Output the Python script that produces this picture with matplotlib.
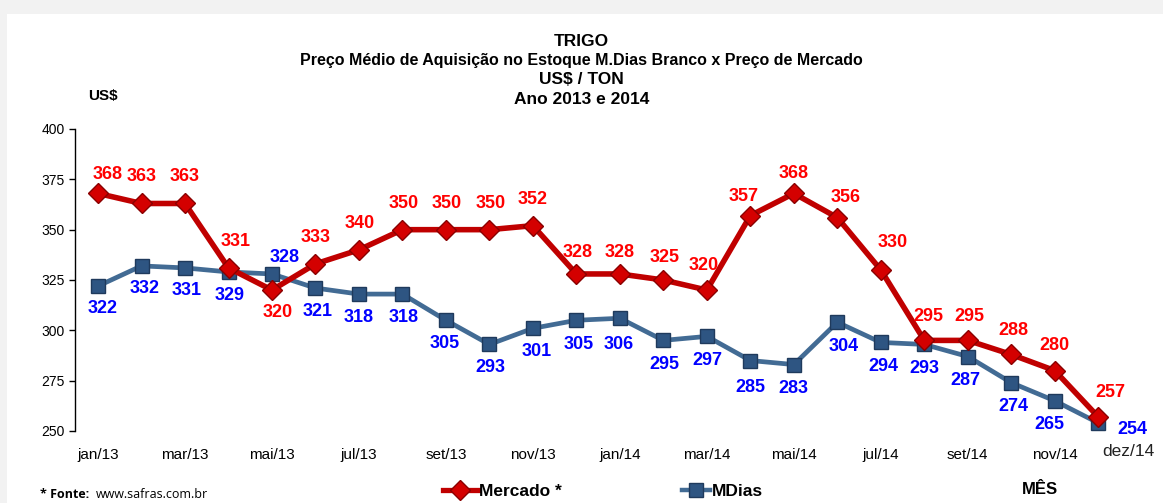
import matplotlib.pyplot as plt
from matplotlib.patches import Rectangle
from matplotlib.lines import Line2D

plt.rcParams['font.family'] = ['Liberation Sans', 'DejaVu Sans']

months = ['jan/13', 'fev/13', 'mar/13', 'abr/13', 'mai/13', 'jun/13', 'jul/13', 'ago/13',
          'set/13', 'out/13', 'nov/13', 'dez/13', 'jan/14', 'fev/14', 'mar/14', 'abr/14',
          'mai/14', 'jun/14', 'jul/14', 'ago/14', 'set/14', 'out/14', 'nov/14', 'dez/14']
mercado = [368, 363, 363, 331, 320, 333, 340, 350, 350, 350, 352, 328,
           328, 325, 320, 357, 368, 356, 330, 295, 295, 288, 280, 257]
mdias = [322, 332, 331, 329, 328, 321, 318, 318, 305, 293, 301, 305,
         306, 295, 297, 285, 283, 304, 294, 293, 287, 274, 265, 254]

# label offsets in pixels (dx, dy), screen up is positive
merc_off = [(10, 19), (0, 27), (0, 27), (7, 26), (6, -22), (0, 26), (1, 26), (1, 26),
            (1, 26), (1, 26), (0, 26), (1, 21), (0, 21), (1, 22), (-3, 25), (-7, 19),
            (0, 20), (8, 20), (12, 27), (4, 24), (2, 24), (2, 24), (0, 25), (12, 24)]
mdias_off = [(5, -22), (3, -23), (2, -23), (1, -24), (13, 16), (2, -23), (0, -23), (1, -23),
             (-1, -23), (1, -23), (4, -23), (2, -24), (-1, -26), (1, -24), (1, -24), (0, -27),
             (0, -24), (6, -24), (3, -24), (0, -24), (-2, -24), (2, -24), (-5, -24), (34, -7)]

RED_LINE = '#c00000'
RED_MARK = '#d40000'
BLUE_LINE = '#426b94'
BLUE_MARK = '#2e5582'

fig = plt.figure(figsize=(11.63, 5.03), dpi=100)
fig.patch.set_facecolor('#f2f2f2')
fig.patches.append(Rectangle((7 / 1163, 0), 1, (503 - 14) / 503, transform=fig.transFigure,
                             facecolor='white', edgecolor='none', zorder=-5))

ax = fig.add_axes([75 / 1163, 72 / 503, 1045 / 1163, 302 / 503])
ax.set_facecolor('none')
x = list(range(len(months)))

ax.plot(x, mdias, color=BLUE_LINE, lw=3.4, marker='s', ms=10.5, mfc=BLUE_MARK,
        mec='#1f3a5c', mew=1, zorder=3, clip_on=False)
ax.plot(x, mercado, color=RED_LINE, lw=4.0, marker='D', ms=10.5, mfc=RED_MARK,
        mec='#8a0000', mew=1, zorder=4, clip_on=False)

for i, v in enumerate(mercado):
    ax.annotate(str(v), (i, v), xytext=merc_off[i], textcoords='offset pixels',
                ha='center', va='center', color='#ff0000', fontsize=13, fontweight='bold', zorder=5)
for i, v in enumerate(mdias):
    ax.annotate(str(v), (i, v), xytext=mdias_off[i], textcoords='offset pixels',
                ha='center', va='center', color='#0000ff', fontsize=13, fontweight='bold', zorder=5)

ax.set_ylim(250, 400)
ax.set_yticks([250, 275, 300, 325, 350, 375, 400])
ax.set_xlim(-0.53, 23.5)
ax.set_xticks(x[:-1:2])
ax.set_xticklabels(months[:-1:2], fontsize=11)
ax.annotate('dez/14', (23, 250), xytext=(30, -13), textcoords='offset pixels',
            ha='center', va='top', fontsize=12.5, color='#222222')
ax.tick_params(axis='x', length=0, pad=12)
ax.tick_params(axis='y', labelsize=10, length=4, direction='out', width=1)
for s in ['top', 'right', 'bottom']:
    ax.spines[s].set_visible(False)
ax.spines['left'].set_linewidth(1)

fig.text(0.5, 1 - 41 / 503, 'TRIGO', ha='center', va='center', fontsize=12.5, fontweight='bold')
fig.text(0.5, 1 - 60 / 503, 'Preço Médio de Aquisição no Estoque M.Dias Branco x Preço de Mercado',
         ha='center', va='center', fontsize=11.5, fontweight='bold')
fig.text(0.5, 1 - 79 / 503, 'US$ / TON', ha='center', va='center', fontsize=12.5, fontweight='bold')
fig.text(0.5, 1 - 99 / 503, 'Ano 2013 e 2014', ha='center', va='center', fontsize=12.5, fontweight='bold')
fig.text(88 / 1163, 1 - 96 / 503, 'US$', ha='left', va='center', fontsize=11, fontweight='bold')

fig.text(40 / 1163, 1 - 495 / 503, '* Fonte:', ha='left', va='center', fontsize=9,
         fontweight='bold', family=['Open Sans', 'DejaVu Sans'])
fig.text(96 / 1163, 1 - 495 / 503, 'www.safras.com.br', ha='left', va='center', fontsize=9,
         family=['Open Sans', 'DejaVu Sans'])
fig.text(1040 / 1163, 1 - 490 / 503, 'MÊS', ha='center', va='center', fontsize=12, fontweight='bold')

h_merc = Line2D([], [], color=RED_LINE, lw=3.8, marker='D', ms=10, mfc=RED_MARK, mec='#8a0000')
h_mdias = Line2D([], [], color=BLUE_LINE, lw=3.2, marker='s', ms=10, mfc=BLUE_MARK, mec='#1f3a5c')
leg1 = fig.legend([h_merc], ['Mercado *'], loc='center left', bbox_to_anchor=(443 / 1163, 1 - 491 / 503),
                  frameon=False, prop={'weight': 'bold', 'size': 12.5}, handlelength=2.0,
                  handletextpad=0.1, borderaxespad=0, borderpad=0)
leg2 = fig.legend([h_mdias], ['MDias'], loc='center left', bbox_to_anchor=(682 / 1163, 1 - 491 / 503),
                  frameon=False, prop={'weight': 'bold', 'size': 12.5}, handlelength=1.6,
                  handletextpad=0.1, borderaxespad=0, borderpad=0)

fig.savefig('out.png', dpi=100)
